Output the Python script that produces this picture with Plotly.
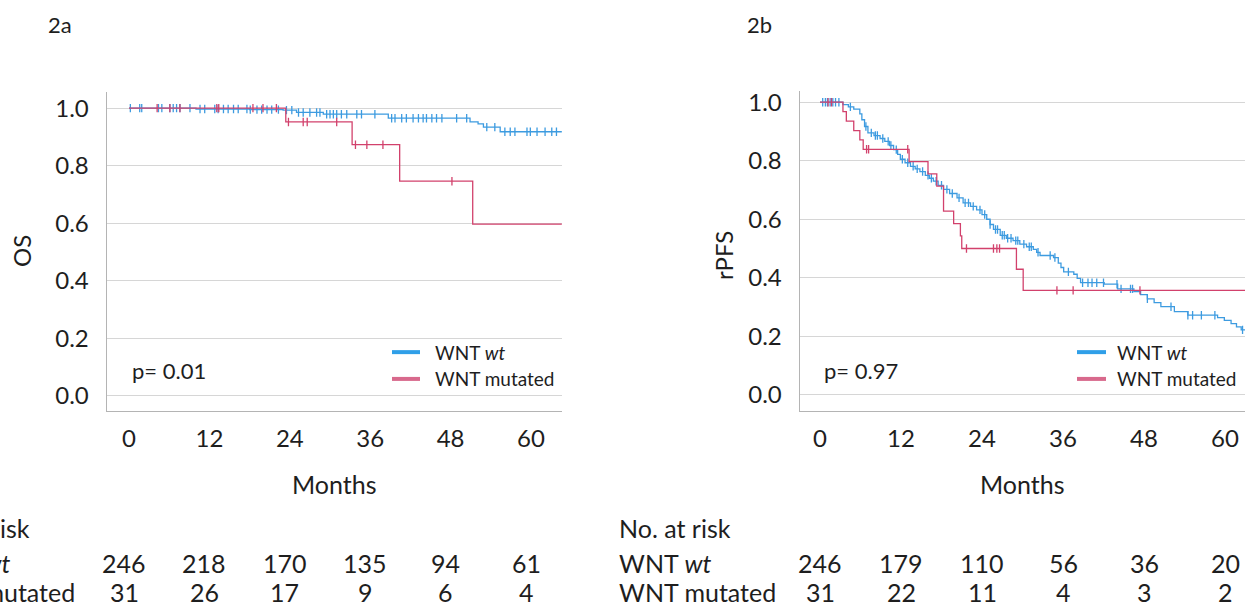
import numpy as np
import plotly.graph_objects as go

# ---------------- data ----------------
month_ticks = [0, 12, 24, 36, 48, 60]
surv_ticks = [0.0, 0.2, 0.4, 0.6, 0.8, 1.0]

# 2a  Overall survival
os_wt_time = [0, 10, 18, 23.0, 25.0, 29.0, 38.7, 50.9, 52.1, 52.9, 55.4]
os_wt_surv = [1.0, 0.997, 0.995, 0.993, 0.985, 0.979, 0.965, 0.952, 0.945, 0.934, 0.918]
os_wt_cens = [0.2, 1.6, 1.9, 4.4, 4.9, 6.1, 6.6, 7.1, 7.6, 9.1, 10.6, 11.3, 12.8, 13.3,
              14.1, 14.8, 15.6, 16.3, 17.6, 18.1, 19.1, 19.8, 20.6, 21.3, 22.3, 23.5,
              24.3, 25.3, 26.0, 27.0, 28.0, 28.5, 29.5, 30.0, 30.5, 31.0, 31.7, 32.5,
              34.0, 34.7, 36.7, 39.2, 39.7, 40.7, 41.4, 42.4, 43.2, 43.9, 44.4, 45.2,
              45.9, 46.7, 48.9, 50.4, 53.4, 54.6, 56.1, 56.9, 57.6, 59.4, 59.9, 60.9,
              62.1, 63.1, 63.8]
os_mut_time = [0, 23.4, 33.3, 40.4, 51.3]
os_mut_surv = [1.0, 0.952, 0.873, 0.746, 0.597]
os_mut_cens = [4.2, 6.1, 7.6, 13.1, 13.4, 18.5, 20.0, 22.0, 23.8, 26.0, 26.6, 31.0,
               33.8, 35.5, 37.9, 48.2]
os_end = 64.6

# 2b  Radiographic progression-free survival
pfs_wt_time = [0, 3.4, 4.2, 5.0, 5.9, 6.2, 6.6, 7.1, 8.0, 8.9, 9.6, 10.3, 10.9, 11.5,
               11.9, 12.6, 13.4, 14.1, 14.8, 15.6, 16.2, 16.8, 17.5, 18.3, 19.2, 20.3,
               21.2, 22.3, 23.2, 24.0, 24.7, 25.2, 25.7, 26.7, 27.6, 28.6, 29.6, 30.6,
               31.6, 32.1, 32.6, 34.6, 35.3, 35.7, 36.1, 37.6, 38.1, 38.6, 42.1, 44.1,
               46.5, 47.5, 48.5, 49.5, 50.5, 52.5, 54.5, 58.9, 59.9, 60.9, 61.7, 62.4]
pfs_wt_surv = [1.0, 0.992, 0.984, 0.976, 0.96, 0.94, 0.917, 0.895, 0.886, 0.876, 0.866,
               0.852, 0.838, 0.822, 0.805, 0.793, 0.781, 0.772, 0.763, 0.75, 0.74, 0.73,
               0.716, 0.702, 0.688, 0.673, 0.656, 0.644, 0.632, 0.616, 0.6, 0.582, 0.565,
               0.545, 0.535, 0.527, 0.515, 0.506, 0.497, 0.487, 0.476, 0.469, 0.45, 0.435,
               0.42, 0.412, 0.398, 0.383, 0.378, 0.362, 0.353, 0.342, 0.328, 0.315, 0.301,
               0.284, 0.272, 0.264, 0.254, 0.243, 0.232, 0.222]
pfs_wt_cens = [0.4, 0.8, 1.1, 1.5, 1.9, 2.3, 2.8, 4.5, 6.8, 7.6, 8.2, 8.5, 9.3, 10.1,
               10.5, 11.3, 12.2, 13.0, 13.8, 14.4, 15.2, 16.0, 16.5, 17.2, 18.0, 18.8,
               19.6, 20.6, 21.5, 22.0, 22.7, 23.7, 24.4, 25.2, 26.0, 26.3, 27.0, 27.3,
               27.8, 28.3, 29.0, 29.3, 30.2, 31.0, 31.3, 32.3, 34.1, 34.8, 36.8, 38.9,
               39.7, 40.3, 41.0, 42.0, 44.0, 44.6, 46.0, 46.3, 48.5, 52.0, 54.5, 55.2,
               56.5, 58.5, 62.6]
pfs_mut_time = [0, 3.4, 3.9, 5.0, 5.9, 6.4, 13.2, 16.0, 17.3, 18.3, 19.8, 20.8, 21.0,
                29.1, 30.1]
pfs_mut_surv = [1.0, 0.968, 0.935, 0.903, 0.871, 0.839, 0.797, 0.755, 0.713, 0.628,
                0.585, 0.543, 0.5, 0.429, 0.357]
pfs_mut_cens = [1.2, 1.7, 6.9, 7.2, 13.0, 21.7, 25.7, 26.2, 26.6, 35.1, 37.5, 47.4]
pfs_end = 63.0

risk_os_wt = [246, 218, 170, 135, 94, 61]
risk_os_mut = [31, 26, 17, 9, 6, 4]
risk_pfs_wt = [246, 179, 110, 56, 36, 20]
risk_pfs_mut = [31, 22, 11, 4, 3, 2]

p_os = "p= 0.01"
p_pfs = "p= 0.97"

# ---------------- style ----------------
W, H = 1260, 610
FONT = "Lato, 'Open Sans', sans-serif"
TXT = "#1e1e1e"
BLUE = "#3d9be0"
RED = "#d2416c"
BLUE_LEG = "#2f9fe8"
RED_LEG = "#d8698c"
GRID = "#d6d6d6"
AXL = "#b4b4b4"


def px(x):
    return x / W


def py(y):
    return 1 - y / H


def step_trace(t, s, end, color, xa, ya):
    xs = list(t) + [end]
    ys = list(s) + [s[-1]]
    return go.Scatter(x=xs, y=ys, mode="lines", line=dict(color=color, width=1.3, shape="hv"),
                      xaxis=xa, yaxis=ya, showlegend=False, hoverinfo="skip")


def cens_trace(t, s, c, color, xa, ya):
    t = np.asarray(t, float)
    s = np.asarray(s, float)
    c = np.asarray(c, float)
    idx = np.searchsorted(t, c, side="right") - 1
    return go.Scatter(x=c, y=s[idx], mode="markers",
                      marker=dict(symbol="line-ns", size=6, line=dict(color=color, width=1.3)),
                      xaxis=xa, yaxis=ya, showlegend=False, hoverinfo="skip")


fig = go.Figure()
# panel a
fig.add_trace(step_trace(os_wt_time, os_wt_surv, os_end, BLUE, "x", "y"))
fig.add_trace(cens_trace(os_wt_time, os_wt_surv, os_wt_cens, BLUE, "x", "y"))
fig.add_trace(step_trace(os_mut_time, os_mut_surv, os_end, RED, "x", "y"))
fig.add_trace(cens_trace(os_mut_time, os_mut_surv, os_mut_cens, RED, "x", "y"))
# panel b
fig.add_trace(step_trace(pfs_wt_time, pfs_wt_surv, pfs_end, BLUE, "x2", "y2"))
fig.add_trace(cens_trace(pfs_wt_time, pfs_wt_surv, pfs_wt_cens, BLUE, "x2", "y2"))
fig.add_trace(step_trace(pfs_mut_time, pfs_mut_surv, pfs_end, RED, "x2", "y2"))
fig.add_trace(cens_trace(pfs_mut_time, pfs_mut_surv, pfs_mut_cens, RED, "x2", "y2"))

TICKSIZE = 24
axis_common = dict(showgrid=False, zeroline=False, showline=True, linecolor=AXL, linewidth=1.4,
                   ticks="", tickfont=dict(family=FONT, size=TICKSIZE, color=TXT), fixedrange=True)
yaxis_common = dict(showgrid=True, gridcolor=GRID, gridwidth=1.2, zeroline=False, showline=True,
                    linecolor=AXL, linewidth=1.4, ticks="", tickvals=surv_ticks,
                    ticktext=[f"{v:.1f}" for v in surv_ticks],
                    tickfont=dict(family=FONT, size=TICKSIZE, color=TXT), fixedrange=True,
                    ticklabelstandoff=12)

fig.update_layout(
    width=W, height=H, margin=dict(l=0, r=0, t=0, b=0),
    paper_bgcolor="white", plot_bgcolor="white", showlegend=False,
    font=dict(family=FONT, color=TXT),
    xaxis=dict(domain=[px(107), px(562)], range=[(107 - 129) / 6.7, (562 - 129) / 6.7],
               tickvals=month_ticks, anchor="y", ticklabelstandoff=6, **axis_common),
    yaxis=dict(domain=[py(409), py(88)], range=[-15 / 290, 1 + 16 / 290], anchor="x",
               **yaxis_common),
    xaxis2=dict(domain=[px(800), px(1245)], range=[(800 - 820) / 6.75, (1245 - 820) / 6.75],
                tickvals=month_ticks, anchor="y2", ticklabelstandoff=6, **axis_common),
    yaxis2=dict(domain=[py(409), py(87)], range=[-16 / 295, 1 + 11 / 295], anchor="x2",
                **yaxis_common),
)

ann = []


def text(x, y, s, size=21, xanchor="center", angle=0, xref="paper", xshift=0):
    ann.append(dict(x=x, y=y, xref=xref, yref="paper", text=s, showarrow=False,
                    xanchor=xanchor, yanchor="middle", textangle=angle, xshift=xshift,
                    font=dict(family=FONT, size=size, color=TXT)))


# panel labels
text(px(60), py(20), "2a", size=22)
text(px(759), py(20), "2b", size=22)
# axis titles
text(px(22), py(248), "OS", size=24, angle=-90)
text(px(724), py(253), "rPFS", size=24, angle=-90)
text(px(334), py(483), "Months", size=25)
text(px(1022), py(483), "Months", size=25)
# p values
text(px(130), py(369), p_os, size=22, xanchor="left")
text(px(822), py(369), p_pfs, size=22, xanchor="left")

# legends (drawn as key lines + labels)
shapes = []
for (x0, x1, xt) in [(392, 420, 433), (1077, 1106, 1115)]:
    for (yy, col, lab) in [(350, BLUE_LEG, "WNT <i>wt</i>"), (377, RED_LEG, "WNT mutated")]:
        shapes.append(dict(type="line", xref="paper", yref="paper", x0=px(x0), x1=px(x1),
                           y0=py(yy), y1=py(yy), line=dict(color=col, width=4)))
        text(px(xt), py(yy), lab, size=19, xanchor="left")

# number-at-risk tables
for (xl, xa, row1, row2, sh) in [(-84, "x", risk_os_wt, risk_os_mut, -5),
                                 (617, "x2", risk_pfs_wt, risk_pfs_mut, 0)]:
    text(px(xl), py(527), "No. at risk", size=25, xanchor="left")
    text(px(xl), py(563), "WNT <i>wt</i>", size=25, xanchor="left")
    text(px(xl), py(592), "WNT mutated", size=25, xanchor="left")
    for m, v1, v2 in zip(month_ticks, row1, row2):
        text(m, py(563), str(v1), size=25, xref=xa, xshift=sh)
        text(m, py(592), str(v2), size=25, xref=xa, xshift=sh)

fig.update_layout(annotations=ann, shapes=shapes)
fig.write_html("out.html", config={"displayModeBar": False, "staticPlot": True},
               post_script="document.body.style.margin='0px';")
